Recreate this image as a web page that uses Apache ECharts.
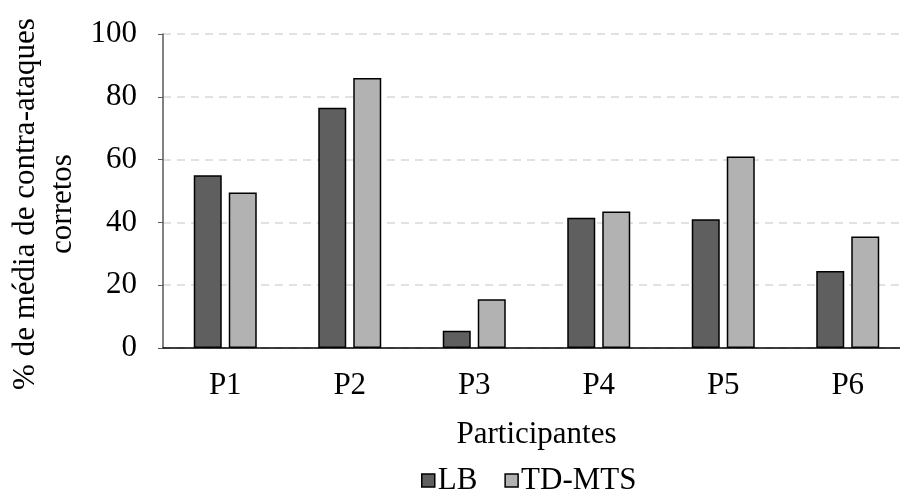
<!DOCTYPE html>
<html>
<head>
<meta charset="utf-8">
<script src="https://cdn.jsdelivr.net/npm/echarts@6/dist/echarts.min.js"></script>
<style>
  html, body { margin: 0; padding: 0; background: #fff; }
  #chart { width: 900px; height: 490px; }
</style>
</head>
<body>
<div id="chart"></div>
<script>
// Participants and mean % of correct counter-attacks per condition
const participants = ['P1', 'P2', 'P3', 'P4', 'P5', 'P6'];
const seriesNames = ['LB', 'TD-MTS'];
const lbValues = [55.0, 76.5, 5.5, 41.5, 41.0, 24.5];
const tdValues = [49.5, 86.0, 15.5, 43.5, 61.0, 35.5];
const yTicks = { min: 0, max: 100, interval: 20 };
const yTitle = '% de média de contra-ataques\ncorretos';

const FONT = '"Liberation Serif", "Times New Roman", serif';
const FS = 31;
const chart = echarts.init(document.getElementById('chart'), null, { renderer: 'canvas' });

const barStyle = (color) => ({ color: color, borderColor: '#000', borderWidth: 1.5 });

chart.setOption({
  animation: false,
  textStyle: { fontFamily: FONT, color: '#000' },
  grid: { left: 163, top: 34, width: 747, height: 314, containLabel: false, outerBoundsMode: 'none' },
  legend: {
    top: 460,
    left: 416,
    itemWidth: 13,
    itemHeight: 13,
    itemGap: 27,
    icon: 'rect',
    textStyle: { fontFamily: FONT, fontSize: FS, color: '#000', padding: [0, 0, 0, -2] },
    data: seriesNames.map(n => ({ name: n, itemStyle: { borderColor: '#000', borderWidth: 1.5 } }))
  },
  graphic: [{
    type: 'text',
    x: 44,
    y: 204,
    rotation: Math.PI / 2,
    style: {
      text: yTitle,
      font: FS + 'px ' + FONT,
      fill: '#000',
      align: 'center',
      verticalAlign: 'middle',
      lineHeight: 37
    }
  }],
  xAxis: {
    type: 'category',
    data: participants,
    name: 'Participantes',
    nameLocation: 'middle',
    nameGap: 71,
    nameTextStyle: { fontFamily: FONT, fontSize: FS, color: '#000' },
    axisLine: { lineStyle: { color: '#000', width: 1.5 } },
    axisTick: { show: false },
    axisLabel: { fontFamily: FONT, fontSize: FS, color: '#000', margin: 22 }
  },
  yAxis: {
    type: 'value',
    min: yTicks.min,
    max: yTicks.max,
    interval: yTicks.interval,
    axisLine: { show: true, lineStyle: { color: '#595959', width: 1.5 } },
    axisTick: { show: true, inside: false, length: 5, lineStyle: { color: '#595959' } },
    axisLabel: { fontFamily: FONT, fontSize: FS, color: '#000', margin: 26 },
    splitLine: { lineStyle: { color: '#d9d9d9', type: [8, 6], width: 1.5 } }
  },
  series: [
    {
      name: seriesNames[0], type: 'bar', data: lbValues,
      barWidth: 28, barGap: '25%',
      itemStyle: barStyle('#5f5f5f')
    },
    {
      name: seriesNames[1], type: 'bar', data: tdValues,
      barWidth: 28,
      itemStyle: barStyle('#b2b2b2')
    }
  ]
});
</script>
</body>
</html>
